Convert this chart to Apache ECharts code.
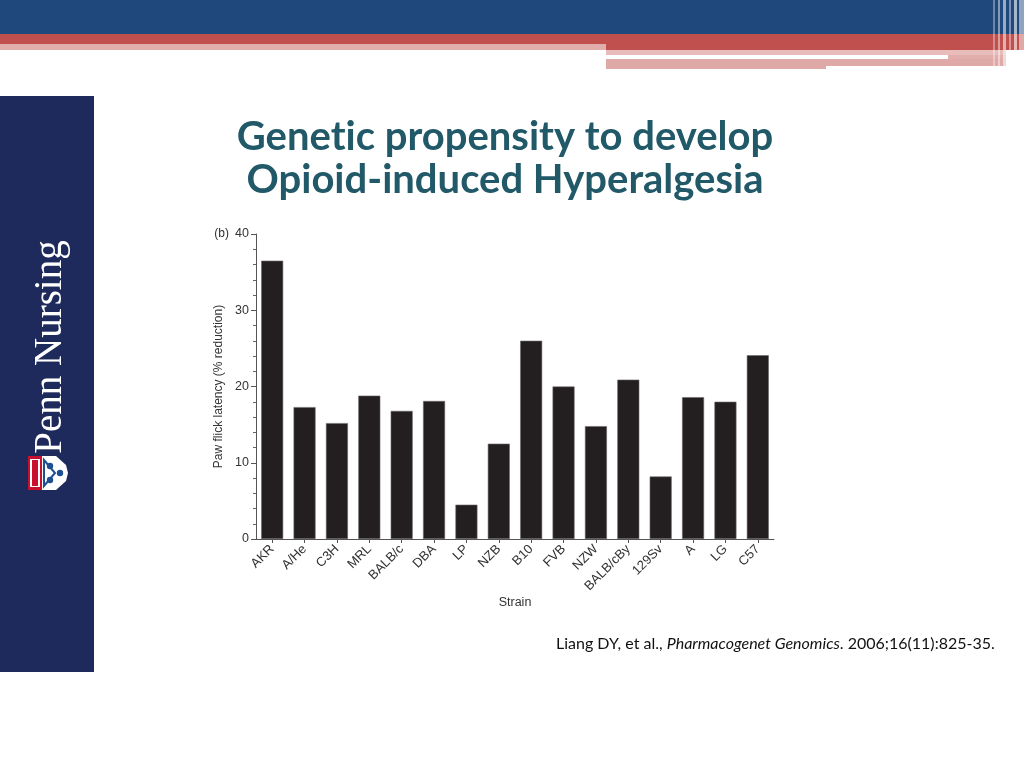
<!DOCTYPE html>
<html>
<head>
<meta charset="utf-8">
<script src="https://cdn.jsdelivr.net/npm/echarts@6/dist/echarts.min.js"></script>
<style>
html,body{margin:0;padding:0;background:#fff;}
#c{width:1024px;height:768px;}
</style>
</head>
<body>
<div id="c"></div>
<script>
const strains = ['AKR','A/He','C3H','MRL','BALB/c','DBA','LP','NZB','B10','FVB','NZW','BALB/cBy','129Sv','A','LG','C57'];
const reduction = [36.5, 17.3, 15.2, 18.8, 16.8, 18.1, 4.5, 12.5, 26.0, 20.0, 14.8, 20.9, 8.2, 18.6, 18.0, 24.1];
const yTicks = [0, 10, 20, 30, 40];
const titleLines = ['Genet\u200Cic propensity to develop', 'Opioid-induced Hyperalgesia'];

const chart = echarts.init(document.getElementById('c'), null, {renderer: 'canvas'});

const FONT_AX = '"Liberation Sans", Arial, sans-serif';

const graphics = [
  // top banner
  {type:'rect', shape:{x:0,y:0,width:1024,height:34}, style:{fill:'#1f487c'}, silent:true},
  {type:'rect', shape:{x:0,y:34,width:606,height:10}, style:{fill:'#c0504d'}, silent:true},
  {type:'rect', shape:{x:0,y:44,width:606,height:6}, style:{fill:'#e2aeac'}, silent:true},
  {type:'rect', shape:{x:606,y:34,width:418,height:16}, style:{fill:'#c0504d'}, silent:true},
  {type:'rect', shape:{x:606,y:50,width:400,height:5}, style:{fill:'#e8bcba'}, silent:true},
  {type:'rect', shape:{x:948,y:55,width:58,height:4}, style:{fill:'#e2aeac'}, silent:true},
  {type:'rect', shape:{x:606,y:59,width:220,height:10}, style:{fill:'#dfa9a7'}, silent:true},
  {type:'rect', shape:{x:826,y:59,width:180,height:7}, style:{fill:'#dfa9a7'}, silent:true},
  {type:'rect', shape:{x:993,y:0,width:2,height:68}, style:{fill:'rgba(255,255,255,0.35)'}, silent:true},
  {type:'rect', shape:{x:998,y:0,width:2,height:68}, style:{fill:'rgba(255,255,255,0.45)'}, silent:true},
  {type:'rect', shape:{x:1003,y:0,width:3,height:70}, style:{fill:'rgba(255,255,255,0.55)'}, silent:true},
  {type:'rect', shape:{x:1009,y:0,width:2,height:70}, style:{fill:'rgba(255,255,255,0.4)'}, silent:true},
  {type:'rect', shape:{x:1014,y:0,width:3,height:70}, style:{fill:'rgba(255,255,255,0.6)'}, silent:true},
  {type:'rect', shape:{x:1019,y:0,width:5,height:70}, style:{fill:'rgba(255,255,255,0.5)'}, silent:true},
  // left sidebar
  {type:'rect', shape:{x:0,y:96,width:94,height:576}, style:{fill:'#1d2a5b'}, silent:true},
  {type:'text', x:51, y:347, rotation:Math.PI/2,
   style:{text:'Penn Nursing', fill:'#ffffff', font:'39px "Liberation Serif", "DejaVu Serif", serif', textAlign:'center', textVerticalAlign:'middle'}, silent:true},
  // shield (rotated view)
  {type:'rect', shape:{x:28,y:456,width:14,height:34}, style:{fill:'#c8102e'}, silent:true},
  {type:'rect', shape:{x:30,y:459,width:10,height:28}, style:{fill:'#ffffff'}, silent:true},
  {type:'rect', shape:{x:32,y:460,width:6,height:26}, style:{fill:'#c8102e'}, silent:true},
  {type:'polygon', shape:{points:[[42,456],[56,456],[66,465],[68,473],[66,481],[56,490],[42,490]]}, style:{fill:'#ffffff'}, silent:true},
  {type:'circle', shape:{cx:50,cy:466,r:3.2}, style:{fill:'#1d4f91'}, silent:true},
  {type:'circle', shape:{cx:50,cy:480,r:3.2}, style:{fill:'#1d4f91'}, silent:true},
  {type:'circle', shape:{cx:60,cy:473,r:3.2}, style:{fill:'#1d4f91'}, silent:true},
  {type:'polygon', shape:{points:[[44,460],[55,473],[44,486]]}, style:{fill:'none', stroke:'#1d4f91', lineWidth:2}, silent:true},
  // title
  {type:'text', x:505, y:137, style:{text:titleLines[0], fill:'#215968', font:'bold 40px Lato, "Noto Sans", sans-serif', textAlign:'center', textVerticalAlign:'middle'}, silent:true},
  {type:'text', x:505, y:180, style:{text:titleLines[1], fill:'#215968', font:'bold 40px Lato, "Noto Sans", sans-serif', textAlign:'center', textVerticalAlign:'middle'}, silent:true},
  // (b) panel label
  {type:'text', x:229, y:234, style:{text:'(b)', fill:'#333', font:'12px ' + FONT_AX, textAlign:'right', textVerticalAlign:'middle'}, silent:true},
  // citation
  {type:'text', x:556, y:644, style:{
    text:'{n|Liang DY, et al., }{i|Pharmacogenet Genomics}{n|. 2006;16(11):825-35.}',
    textVerticalAlign:'middle',
    rich:{
      n:{fontFamily:'Lato, "Noto Sans", sans-serif', fontSize:16, fill:'#111', color:'#111'},
      i:{fontFamily:'Lato, "Noto Sans", sans-serif', fontSize:16, fontStyle:'italic', fill:'#111', color:'#111'}
    }}, silent:true}
];

chart.setOption({
  animation:false,
  backgroundColor:'#ffffff',
  grid:{left:256, right:250, top:234, bottom:229, containLabel:false},
  xAxis:{
    type:'category',
    data:strains,
    boundaryGap:true,
    name:'Strain',
    nameLocation:'middle',
    nameGap:56,
    nameTextStyle:{fontFamily:FONT_AX, fontSize:12.5, color:'#333'},
    axisLine:{lineStyle:{color:'#555', width:1}},
    axisTick:{show:true, alignWithLabel:true, length:4, lineStyle:{color:'#555'}},
    axisLabel:{rotate:45, fontFamily:FONT_AX, fontSize:13, color:'#333', margin:8, interval:0}
  },
  yAxis:{
    type:'value',
    min:0, max:40, interval:10,
    name:'Paw flick latency (% reduction)',
    nameLocation:'middle',
    nameGap:30,
    nameRotate:90,
    nameTextStyle:{fontFamily:FONT_AX, fontSize:12, color:'#333'},
    axisLine:{show:true, lineStyle:{color:'#555', width:1}},
    axisTick:{show:true, length:5, lineStyle:{color:'#555'}},
    minorTick:{show:true, splitNumber:5, length:3, lineStyle:{color:'#666'}},
    splitLine:{show:false},
    axisLabel:{fontFamily:FONT_AX, fontSize:12.5, color:'#333', margin:7,
      formatter:function(v){ return yTicks.indexOf(v) >= 0 ? String(v) : ''; }}
  },
  series:[{
    type:'bar',
    data:reduction,
    barWidth:22,
    itemStyle:{color:'#231f20', borderColor:'#6b6869', borderWidth:0.6}
  }],
  graphic:graphics
});
</script>
</body>
</html>
